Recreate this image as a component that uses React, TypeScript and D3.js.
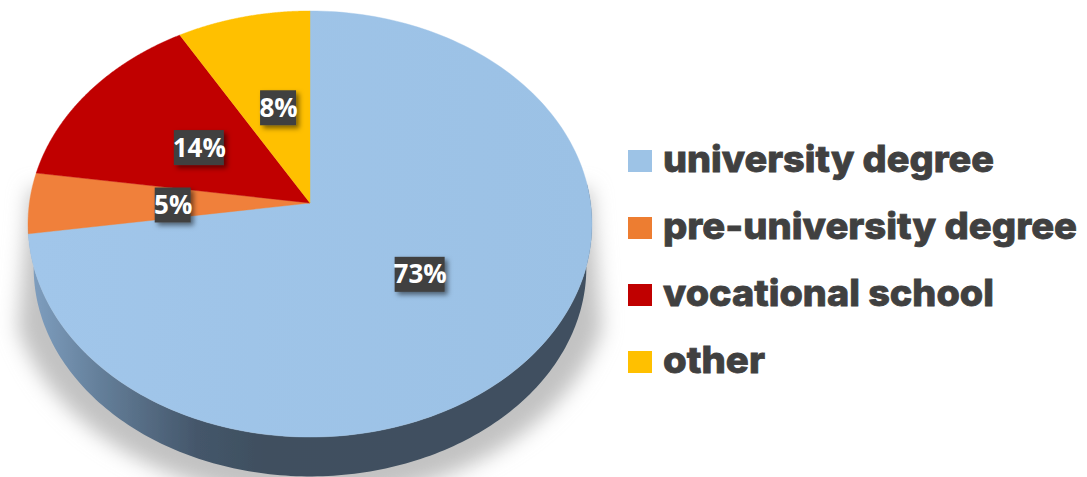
import React from "react";
import * as d3 from "d3";

const categories = ["university degree", "pre-university degree", "vocational school", "other"];
const values = [72.7, 4.6, 14.3, 8.4];
const colors = ["#9dc3e6", "#f0803a", "#c00000", "#ffc000"];
const swatchColors = ["#9dc3e6", "#ed7d31", "#c00000", "#ffc000"];
const legendWidths = [331, 414, 331, 102];
const labelNudgeX = [0, 3, 2, 3];
const labelNudgeY = [0, 2, 2, 2];

const W = 1087;
const H = 477;
const cx = 310;
const apexY = 203;
const Rx = 280.6;
const Ry = 211;
const k = 0.0986;
const depth = 44;
const deg = Math.PI / 180;

const project = (X: number, Y: number, dy = 0, s = 1): [number, number] => {
  const w = 1 - k * Y;
  return [cx + (s * Rx * X) / w, apexY + dy + (s * Ry * Y) / w];
};

const arcGen = d3.arc<any>().innerRadius(0).outerRadius(1);
const pieData = d3.pie<number>().sort(null)(values);
const lineGen = d3.line<[number, number]>();

const ringPts = (a0: number, a1: number, dy = 0, s = 1) =>
  d3.range(0, 181).map((i) => {
    const a = a0 + ((a1 - a0) * i) / 180;
    return project(Math.sin(a), -Math.cos(a), dy, s);
  });

const wallPath = (() => {
  const outer = ringPts(Math.PI * 0.47, Math.PI * 1.47);
  const lower = ringPts(Math.PI * 0.47, Math.PI * 1.47, depth, 0.98);
  return lineGen([...outer, ...lower.reverse()]) + "Z";
})();

const shadowPath = (() => {
  const ring = ringPts(110 * deg, 250 * deg, 46, 1.07);
  const topLeft = project(-1, 0, -14);
  const topRight = project(1, 0, -14);
  return lineGen([topRight, ...ring, topLeft]) + "Z";
})();

const legendY = d3.scalePoint<string>().domain(categories).range([150, 351]);

export default function App() {
  return (
    <svg
      width={W}
      height={H}
      viewBox={`0 0 ${W} ${H}`}
      style={{ position: "absolute", left: 0, top: 0, display: "block", background: "#fff" }}
    >
      <defs>
        <linearGradient id="wall" gradientUnits="userSpaceOnUse" x1={30} x2={590} y1={0} y2={0}>
          <stop offset="0" stopColor="#7f9fc0" />
          <stop offset="0.12" stopColor="#65809b" />
          <stop offset="0.3" stopColor="#44566a" />
          <stop offset="0.42" stopColor="#3f4f5f" />
          <stop offset="1" stopColor="#3f5061" />
        </linearGradient>
        <linearGradient id="top" gradientUnits="userSpaceOnUse" x1={30} x2={590} y1={300} y2={300}>
          <stop offset="0" stopColor="#a1c6ea" />
          <stop offset="1" stopColor="#9bc1e5" />
        </linearGradient>
        <filter id="blur" x="-10%" y="-10%" width="120%" height="120%">
          <feGaussianBlur stdDeviation={10} />
        </filter>
        <filter id="soft" x="-2%" y="-2%" width="104%" height="104%">
          <feGaussianBlur stdDeviation={0.5} />
        </filter>
        <filter id="boxShadow" x="-30%" y="-30%" width="170%" height="170%">
          <feDropShadow dx={3} dy={3} stdDeviation={2.5} floodColor="#000" floodOpacity={0.5} />
        </filter>
      </defs>

      <path d={shadowPath} fill="#c2c2c2" filter="url(#blur)" />

      <g filter="url(#soft)">
        <path d={wallPath} fill="url(#wall)" />
        {pieData.map((d, i) => {
          const pts = [project(0, 0), ...ringPts(d.startAngle, d.endAngle)];
          return (
            <path
              key={categories[i]}
              d={lineGen(pts) + "Z"}
              fill={i === 0 ? "url(#top)" : colors[i]}
              stroke={i === 0 ? "url(#top)" : colors[i]}
              strokeWidth={0.4}
            />
          );
        })}
      </g>

      {pieData.map((d, i) => {
        const [ux, uy] = arcGen.centroid(d as any);
        const [px, py] = project(ux, uy);
        const x = px + labelNudgeX[i];
        const y = py + labelNudgeY[i];
        const label = `${Math.round(values[i])}%`;
        const bw = label.length === 3 ? 50 : 36;
        return (
          <g key={label}>
            <rect x={x - bw / 2} y={y - 17.5} width={bw} height={35} fill="#404040" filter="url(#boxShadow)" />
            <text
              x={x + 0.5}
              y={y + 9}
              textAnchor="middle"
              fill="#fff"
              fontFamily="'Open Sans', sans-serif"
              fontWeight={700}
              fontSize={26}
            >
              {label}
            </text>
          </g>
        );
      })}

      {categories.map((c, i) => {
        const y = legendY(c) as number;
        return (
          <g key={c}>
            <rect x={628} y={y} width={24} height={22} fill={swatchColors[i]} />
            <text
              x={663}
              y={y + 22}
              fill="#404040"
              stroke="#404040"
              strokeWidth={0.8}
              fontFamily="Inter, 'Open Sans', sans-serif"
              fontWeight={800}
              fontSize={37}
              textLength={legendWidths[i]}
              lengthAdjust="spacingAndGlyphs"
            >
              {c}
            </text>
          </g>
        );
      })}
    </svg>
  );
}
